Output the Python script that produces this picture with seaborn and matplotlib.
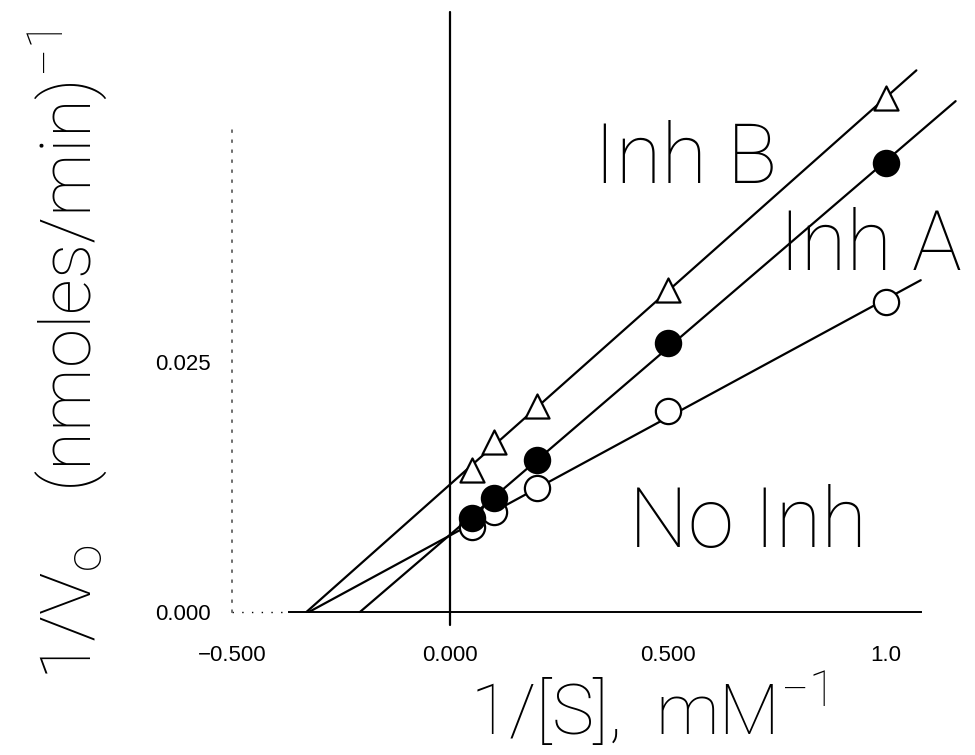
import numpy as np
import pandas as pd
import matplotlib
matplotlib.use("Agg")
import matplotlib.pyplot as plt
import seaborn as sns

# data (1/[S] in mM^-1, 1/Vo in (nmoles/min)^-1)
inv_s = [0.05, 0.1, 0.2, 0.5, 1.0]
no_inh = [0.0085, 0.0100, 0.0124, 0.0201, 0.0310]
inh_a = [0.0094, 0.0114, 0.0152, 0.0269, 0.0449]
inh_b = [0.0142, 0.0170, 0.0206, 0.0322, 0.0514]
series_names = ["No Inh", "Inh A", "Inh B"]
line_end = [1.08, 1.16, 1.07]
x_ticks = [-0.5, 0.0, 0.5, 1.0]
x_tick_labels = ["\u22120.500", "0.000", "0.500", "1.0"]
y_ticks = [0.0, 0.025]
y_tick_labels = ["0.000", "0.025"]

df = pd.DataFrame({
    "x": inv_s * 3,
    "y": no_inh + inh_a + inh_b,
    "series": [n for n in series_names for _ in inv_s],
})

sns.set_style("white")
plt.rcParams["font.family"] = ["Roboto", "DejaVu Sans"]
plt.rcParams["text.color"] = "black"
plt.rcParams["axes.labelcolor"] = "black"
plt.rcParams["xtick.color"] = "black"
plt.rcParams["ytick.color"] = "black"
plt.rcParams["mathtext.fontset"] = "custom"
plt.rcParams["mathtext.rm"] = "Roboto:light"

big = dict(fontsize=60, fontweight="light", color="black")

fig = plt.figure(figsize=(9.75, 7.55), dpi=100)
ax = fig.add_axes([0.238, 0.163, 0.760, 0.834])

# regression lines, extended back to the x intercept
for name, end in zip(series_names, line_end):
    sub = df[df.series == name]
    slope, icpt = np.polyfit(sub.x, sub.y, 1)
    x0 = -icpt / slope
    ax.plot([x0, end], [0, slope * end + icpt], color="black", lw=1.6, zorder=2)

# points
styles = {"No Inh": ("o", "white"), "Inh A": ("o", "black"), "Inh B": ("^", "white")}
for name in series_names:
    mk, fc = styles[name]
    sns.scatterplot(data=df[df.series == name], x="x", y="y", marker=mk,
                    s=330 if mk == "o" else 300, color=fc, edgecolor="black",
                    linewidth=1.6, ax=ax, zorder=3, legend=False)
ax.set_xlabel("")
ax.set_ylabel("")

# axes decorations
ax.axvline(0, ymin=0.0117, ymax=0.985, color="black", lw=1.6, zorder=1)
ax.plot([-0.5, -0.37], [0, 0], color="black", lw=1.0, ls=(0, (1, 6)))
ax.set_xlim(-0.5, 1.2)
ax.set_ylim(-0.002, 0.061)
for sp in ["top", "right"]:
    ax.spines[sp].set_visible(False)
ax.spines["bottom"].set_position(("data", 0))
ax.spines["bottom"].set_bounds(-0.37, 1.08)
ax.spines["bottom"].set_linewidth(1.4)
ax.spines["bottom"].set_color("black")
ax.spines["left"].set_bounds(0, 0.049)
ax.spines["left"].set_linestyle((0, (1, 5)))
ax.spines["left"].set_color("#555555")
ax.spines["left"].set_linewidth(1.2)

ax.set_xticks(x_ticks)
ax.set_xticklabels(x_tick_labels, family=["Liberation Sans", "DejaVu Sans"], fontsize=16)
ax.set_yticks(y_ticks)
ax.set_yticklabels(y_tick_labels, family=["Liberation Sans", "DejaVu Sans"], fontsize=16)
ax.tick_params(axis="x", direction="inout", length=14, width=1.2, pad=17)
ax.tick_params(axis="y", direction="out", length=12, width=1.2, pad=3)

# axis titles
fig.text(648 / 975, 20 / 755, r"1/[S],  mM$^{-1}$", ha="center", va="baseline",
         fontsize=51, fontweight="light")
fig.text(68 / 975, 1 - 355 / 755, r"1/V$_\mathregular{o}$   (nmoles/min)$^{-1}$",
         rotation=90, ha="center", va="center", fontsize=51, fontweight="light")

# series labels
ax.text(0.33, 0.0429, "Inh B", ha="left", va="baseline", **big)
ax.text(0.755, 0.0342, "Inh A", ha="left", va="baseline", **big)
ax.text(0.41, 0.0065, "No Inh", ha="left", va="baseline", **big)

fig.savefig("out.png", dpi=100)
